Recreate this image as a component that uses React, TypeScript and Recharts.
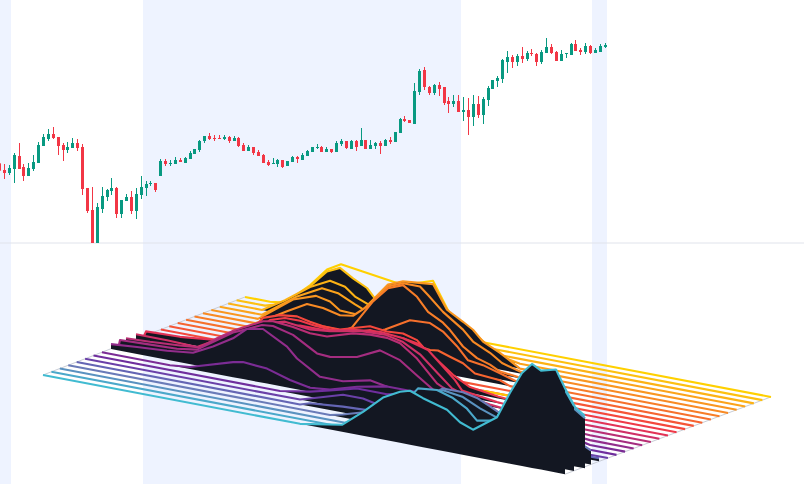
import React from 'react';
import { Area, Bar, ComposedChart, Line, ReferenceArea, ReferenceLine, XAxis, YAxis } from 'recharts';

const WIDTH = 804;
const HEIGHT = 484;
const PANE_SPLIT = 243;

// candles, oldest first
const opens = [239,219,210,222,261,228,201,222,240,291,312,327,318,294,279,285,300,288,165,99,-61,102,138,156,165,87,126,138,96,144,165,177,180,201,246,237,237,249,240,252,267,279,306,321,315,315,312,318,306,315,294,276,288,273,264,243,237,237,249,231,243,258,249,261,273,285,288,273,282,273,297,306,282,306,291,309,282,291,300,291,309,303,330,372,369,357,453,519,468,450,474,468,426,417,426,393,399,378,417,384,429,462,486,492,543,558,543,561,552,570,567,543,570,588,573,546,567,564,597,579,573,591,570,573,588];
const closes = [217,210,225,264,222,201,225,243,294,318,327,315,291,279,288,300,285,162,96,-51,108,141,159,165,87,129,138,96,147,168,177,180,159,246,237,240,249,243,255,270,282,306,321,312,312,312,318,306,315,291,276,288,270,261,240,234,240,249,228,246,258,252,264,276,288,288,273,282,273,300,306,285,306,288,309,282,294,300,291,309,303,333,372,366,360,456,516,468,450,474,462,420,417,426,393,399,378,417,384,432,465,489,495,549,558,543,561,552,570,567,543,573,588,570,546,567,570,597,576,573,591,570,579,591,594];
const highs = [241,237,234,270,300,237,240,264,303,327,342,348,318,300,303,315,312,297,165,168,120,168,162,195,168,129,147,156,165,201,186,186,180,252,252,249,258,255,258,276,282,309,321,330,324,324,324,321,321,318,300,294,288,279,267,249,255,252,249,246,261,261,270,279,288,297,291,288,282,306,312,306,309,309,345,309,309,303,306,312,318,333,375,381,369,480,522,528,471,477,483,468,438,444,444,438,435,444,441,438,471,489,501,552,576,564,567,588,576,582,570,579,615,597,576,579,570,600,609,585,600,594,585,597,600];
const lows = [215,192,204,180,222,186,201,216,240,291,306,312,264,246,270,285,276,144,90,-61,-71,90,126,144,75,75,126,87,72,132,141,171,153,201,231,231,237,243,240,252,267,273,300,309,306,312,309,300,306,288,276,276,264,261,240,231,237,228,225,231,243,240,249,261,273,282,273,273,270,273,291,282,282,276,291,282,282,282,267,291,297,303,330,363,360,357,444,459,444,444,441,414,390,408,393,366,324,351,375,357,411,462,468,480,510,525,531,540,546,561,531,537,570,567,546,546,555,564,576,564,567,567,570,573,585];

const shadedBands = [[0, 11], [143, 461], [592, 607]];

const ridgeColors = [
  '#41BBD1', '#4BA8CA', '#5A92C0', '#6A7BB8', '#6465B4', '#6A40A8', '#6F2E9D', '#7B2C95', '#922D8B',
  '#A42D80', '#B92E74', '#CF3066', '#E23356', '#EE3A48', '#F4473C', '#F55536', '#F66430', '#F6702C',
  '#F77D28', '#F88A24', '#F99620', '#FBA31B', '#FCB215', '#FDC010', '#FFD000',
];

// [position along the ridge, height above the floor], front ridge first
const ridge00 = [[300,0],[342,7],[363,24],[383,42],[400,51],[410,54],[423,49],[447,42],[460,32],[473,27],[497,44],[510,71],[522,93],[532,104],[541,99],[556,103],[565,86],[575,69],[585,62]];
const ridge01 = [[345,0],[400,30],[418,53],[437,55],[453,50],[467,42],[477,32],[493,35],[497,39],[510,64],[522,87],[532,97],[541,92],[556,96],[565,79],[574,65]];
const ridge02 = [[345,0],[400,25],[443,51],[463,48],[480,40],[497,34],[510,59],[522,81],[532,91],[541,86],[556,91],[565,73],[575,57],[585,50]];
const ridge03 = [[330,0],[343,3],[400,20],[443,48],[463,48],[477,45],[490,39],[498,35],[510,30],[585,17],[591,14]];
const ridge04 = [[300,0],[310,3],[343,6],[367,7],[390,10],[430,20],[500,20],[570,8],[591,3],[599,3]];
const ridge05 = [[300,0],[310,3],[343,13],[363,13],[377,10],[400,25],[500,22],[570,6],[590,0]];
const ridge06 = [[280,0],[310,5],[330,10],[357,17],[387,17],[420,25],[500,20],[570,6],[590,0]];
const ridge07 = [[170,0],[190,2],[233,15],[243,17],[267,15],[290,8],[310,4],[330,6],[357,14],[387,20],[440,20],[500,15],[570,5],[590,0]];
const ridge08 = [[111,5],[137,7],[167,9],[193,12],[213,22],[233,34],[247,46],[263,49],[287,36],[297,26],[320,12],[343,12],[370,18],[397,13],[440,10],[500,8],[590,0]];
const ridge09 = [[120,6],[147,7],[177,8],[197,11],[215,23],[233,35],[247,41],[262,48],[273,49],[293,44],[317,30],[330,29],[357,34],[380,45],[400,39],[417,27],[433,16],[500,5],[590,0]];
const ridge10 = [[126,4],[150,5],[180,7],[200,9],[218,22],[235,33],[263,47],[273,49],[293,47],[310,44],[327,44],[353,52],[370,54],[387,54],[400,51],[417,39],[437,18],[443,15],[480,0]];
const ridge11 = [[136,5],[167,5],[197,4],[217,15],[240,29],[263,40],[285,46],[310,43],[330,45],[360,51],[385,52],[403,48],[420,39],[437,24],[452,11],[470,5],[490,2],[510,0]];
const ridge12 = [[146,5],[180,6],[210,9],[233,13],[263,30],[300,40],[325,40],[353,46],[380,49],[403,47],[428,40],[440,29],[455,15],[462,6],[497,1],[510,0]];
const ridge13 = [[230,0],[240,3],[270,35],[285,40],[300,40],[315,38],[330,37],[350,37],[370,44],[386,42],[403,42],[420,39],[437,27],[453,15],[470,6],[498,2],[520,0]];
const ridge14 = [[235,0],[250,15],[263,31],[280,37],[297,39],[310,36],[323,34],[340,34],[370,43],[387,41],[403,42],[417,38],[433,23],[450,11],[470,0]];
const ridge15 = [[240,0],[270,24],[300,30],[350,28],[400,33],[430,18],[450,5],[458,0]];
const ridge16 = [[240,0],[270,20],[320,22],[400,25],[430,21],[438,22],[450,18],[463,14],[475,6],[500,4],[510,0]];
const ridge17 = [[250,0],[280,18],[310,18],[340,15],[370,22],[385,28],[410,42],[430,43],[443,37],[457,25],[468,13],[483,11],[500,6],[517,1],[530,0]];
const ridge18 = [[250,0],[300,10],[340,12],[352,19],[373,49],[388,65],[403,71],[417,62],[428,49],[443,41],[450,35],[463,21],[477,12],[490,8],[500,3],[518,1],[530,0]];
const ridge19 = [[255,0],[270,8],[287,18],[307,29],[323,28],[340,24],[353,26],[373,43],[388,62],[403,68],[420,68],[428,61],[443,47],[463,33],[473,23],[490,15],[502,7],[520,2],[535,0]];
const ridge20 = [[258,0],[293,26],[316,34],[330,31],[340,24],[358,23],[373,41],[388,59],[403,65],[433,68],[447,45],[463,36],[473,30],[483,20],[500,12],[520,0]];
const ridge21 = [[262,0],[297,25],[322,38],[338,36],[355,28],[367,23],[388,50],[403,55],[433,58],[447,38],[470,20],[480,8],[520,0]];
const ridge22 = [[262,0],[285,14],[310,32],[330,42],[345,39],[355,31],[370,25],[388,44],[403,47],[433,50],[452,30],[470,20],[490,6],[500,0]];
const ridge23 = [[265,0],[285,6],[310,28],[327,46],[340,52],[353,44],[367,37],[375,28],[388,40],[403,46],[433,47],[452,25],[470,12],[484,0]];
const ridge24 = [[270,0],[285,2],[310,24],[327,43],[341,51],[403,42],[433,52],[452,18],[470,7],[483,0]];

const ridges = [
  ridge00, ridge01, ridge02, ridge03, ridge04, ridge05, ridge06, ridge07, ridge08, ridge09, ridge10, ridge11, ridge12,
  ridge13, ridge14, ridge15, ridge16, ridge17, ridge18, ridge19, ridge20, ridge21, ridge22, ridge23, ridge24,
];

// the stretch of ridge 14 that is drawn yellow in the wedge
const RECOLORED_ROW = 14;
const recoloredStretch = [483, 508];

// oblique floor the ridges stand on
const FLOOR_LEFT = 43;
const FLOOR_RIGHT = 565;
const FLOOR_Y = 366.83;
const FLOOR_SLOPE = 0.19;
const ROW_START_STEP = 8.417;
const ROW_END_STEP = 8.583;
const ROW_RISE = 4.85;
const LAST_SHORT_ROW = 3;

const floorY = (row: number, pos: number) => FLOOR_Y + FLOOR_SLOPE * pos - ROW_RISE * row;
const rowStart = (row: number) => FLOOR_LEFT + ROW_START_STEP * row;
const rowEnd = (row: number) => FLOOR_RIGHT + ROW_END_STEP * row;

const ridgeRows = (row: number) => {
  const pts = ridges[row];
  const all = [...pts];
  if (pts[0][0] > rowStart(row) + 1) all.unshift([rowStart(row), 0]);
  if (row > LAST_SHORT_ROW && pts[pts.length - 1][0] < rowEnd(row) - 1) all.push([rowEnd(row), pts[pts.length - 1][1]]);
  return all.map(([x, h]) => ({ x, top: floorY(row, x) - h, base: floorY(row, x) }));
};

const floorEdges = [
  [{ x: rowStart(0), edge: floorY(0, rowStart(0)) }, { x: rowStart(24), edge: floorY(24, rowStart(24)) }],
  [{ x: rowEnd(0), edge: floorY(0, rowEnd(0)) }, { x: rowEnd(24), edge: floorY(24, rowEnd(24)) }],
];

const candles = opens.map((open, i) => ({
  i,
  open,
  close: closes[i],
  range: [lows[i], highs[i]],
}));

const Candle = (props: any) => {
  const { x, y, width, height, payload } = props;
  const [low, high] = payload.range;
  const perUnit = height / (high - low);
  const bodyHigh = Math.max(payload.open, payload.close);
  const bodyLow = Math.min(payload.open, payload.close);
  const color = payload.close >= payload.open ? '#089981' : '#F23645';
  const left = Math.floor(x);
  return (
    <g>
      <rect x={left + 1} y={y} width={1} height={height} fill={color} />
      <rect
        x={left}
        y={y + (high - bodyHigh) * perUnit}
        width={3}
        height={Math.max(1, (bodyHigh - bodyLow) * perUnit)}
        fill={color}
      />
    </g>
  );
};

export default function App() {
  return (
    <div style={{ position: 'absolute', left: 0, top: 0, width: WIDTH, height: HEIGHT, overflow: 'hidden', background: '#fff' }}>
      <div style={{ position: 'absolute', left: 0, top: 0 }}>
        <ComposedChart width={WIDTH} height={HEIGHT} margin={{ top: 0, right: 0, bottom: 0, left: 0 }}>
          <XAxis type="number" dataKey="x" domain={[0, WIDTH]} hide allowDuplicatedCategory={false} />
          <YAxis type="number" domain={[0, HEIGHT]} reversed hide />
          {shadedBands.map(([x1, x2]) => (
            <ReferenceArea key={x1} x1={x1} x2={x2} fill="#EEF3FF" fillOpacity={1} stroke="none" ifOverflow="hidden" />
          ))}
          <ReferenceLine y={PANE_SPLIT} stroke="#E0E3EB" strokeWidth={1} />
          {floorEdges.map((edge, i) => (
            <Line key={i} data={edge} dataKey="edge" stroke="#C9CDD6" strokeWidth={1} dot={false} activeDot={false} isAnimationActive={false} />
          ))}
          {ridges.map((_, i) => ridges.length - 1 - i).map((row) => {
            const rows = ridgeRows(row);
            const fillRows = rows.filter((d) => d.x <= rowEnd(row) + 4);
            const z = 1000 + (24 - row) * 3;
            return (
              <React.Fragment key={row}>
                {row < 24 && (
                  <Area
                    data={fillRows}
                    dataKey={(d: any) => [d.top, d.base]}
                    type="linear"
                    fill="#131722"
                    fillOpacity={1}
                    stroke="none"
                    dot={false}
                    activeDot={false}
                    isAnimationActive={false}
                    zIndex={z}
                  />
                )}
                <Line
                  data={rows}
                  dataKey="top"
                  type="linear"
                  stroke={ridgeColors[row]}
                  strokeWidth={2.1}
                  strokeLinejoin="round"
                  dot={false}
                  activeDot={false}
                  isAnimationActive={false}
                  zIndex={z + 1}
                />
                {row === RECOLORED_ROW && (
                  <Line
                    data={recoloredStretch.map((x) => ({ x, top: floorY(row, x) }))}
                    dataKey="top"
                    stroke="#FFC800"
                    strokeWidth={2.1}
                    dot={false}
                    activeDot={false}
                    isAnimationActive={false}
                    zIndex={z + 2}
                  />
                )}
              </React.Fragment>
            );
          })}
        </ComposedChart>
      </div>
      <div style={{ position: 'absolute', left: 0, top: 0, height: PANE_SPLIT, overflow: 'hidden' }}>
        <ComposedChart width={WIDTH} height={PANE_SPLIT} data={candles} margin={{ top: 0, right: 0, bottom: 0, left: 0 }}>
          <XAxis type="number" dataKey="i" domain={[0.06, 164.6]} hide />
          <YAxis type="number" domain={[0, 729]} allowDataOverflow hide />
          <Bar dataKey="range" barSize={3} shape={Candle} isAnimationActive={false} />
        </ComposedChart>
      </div>
    </div>
  );
}
